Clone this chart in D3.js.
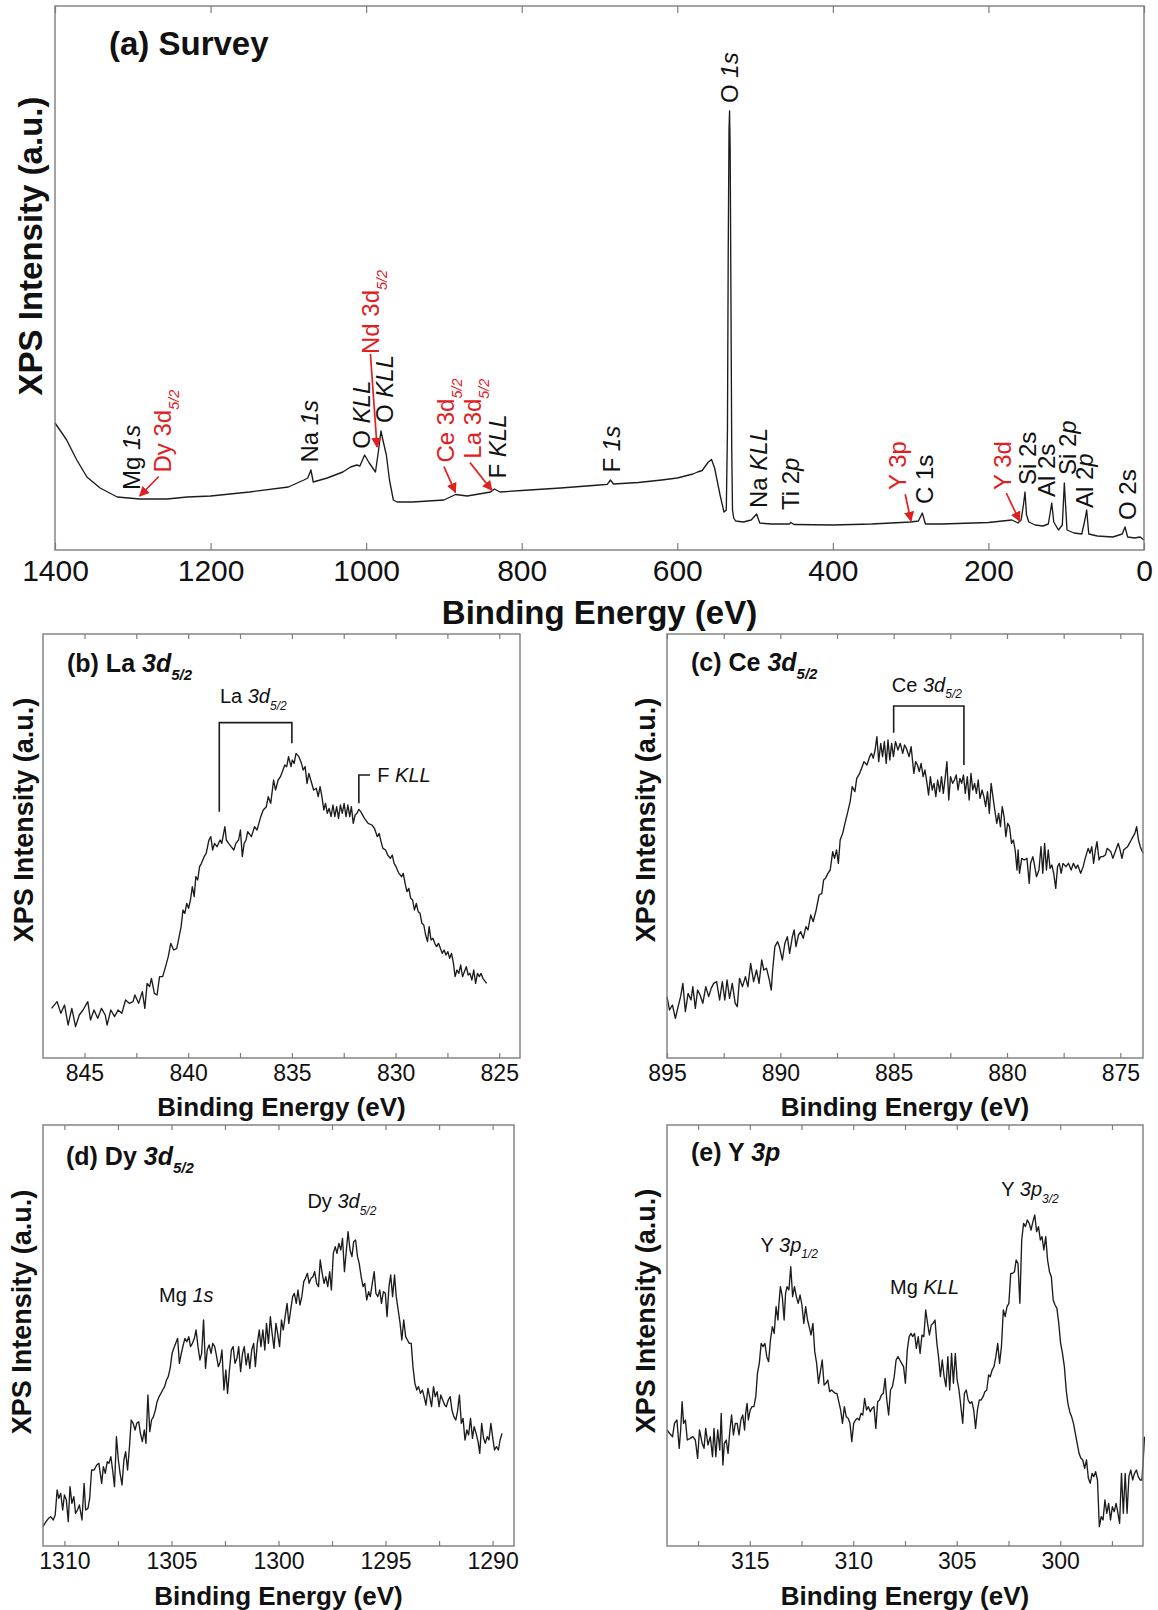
<!DOCTYPE html>
<html>
  <head>
    <title>XPS spectra</title>
    <script src="https://d3js.org/d3.v7.min.js"></script>
    <style>
      body { margin: 0; background: #fff; }
      svg text { font-family: "Liberation Sans", Arial, Helvetica, sans-serif; fill: #111; }
      .frame { fill: none; stroke: #7d7d7d; stroke-width: 1.4; }
      .axis path { display: none; }
      .axis line { stroke: #7d7d7d; stroke-width: 1.2; }
      .spectrum { fill: none; stroke: #1c1c1c; stroke-width: 1.35; stroke-linejoin: round; }
      .bracket { fill: none; stroke: #1c1c1c; stroke-width: 1.6; }
      .arrow { stroke: #e0201e; stroke-width: 1.7; }
    </style>
  </head>
  <body>
    <svg width="1158" height="1610"></svg>
    <script>
      // ---- data: [binding energy (eV), intensity (a.u.)] ----
      const surveySpec = [
        [1400,127],[1392,118],[1385,110],[1372,90],[1359,73],[1342,62],[1320,53],[1291,51],[1256,51],[1230,53],
        [1200,54],[1150,58],[1100,63],[1080,70],[1075,72],[1071,80],[1068,68],[1050,72],[1030,78],[1020,83],
        [1012,85],[1008,84],[1002,95],[996,87],[988,78],[984,100],[981,119],[977,105],[974,95],[970,70],
        [965,50],[960,48],[940,48],[900,50],[885,55.5],[870,54],[840,58],[835,61],[828,58],[800,59.5],
        [750,62],[700,65],[690,65.6],[686,70],[682,66],[650,67.5],[620,70],[600,72],[580,76],[574,78],
        [568,79.5],[560,88],[556,90.5],[552,82],[545,55],[540,38],[537,40],[535.5,120],[534.5,300],[533.5,420],
        [532.8,439],[532,400],[531,250],[530,100],[529,40],[527.5,32],[525,29],[515,28],[505,30],[498,36],
        [494,27],[480,26],[456,26],[454,27.5],[450,25.5],[400,25],[350,26],[300,28],[290,29],[285,37],
        [281,26],[260,26],[200,27.5],[170,30],[162,27],[158,30],[155,45],[153,58],[151,35],[148,28],
        [140,25],[130,24],[123,26],[120,40],[118.6,47],[116,28],[110,20],[105,25],[102.4,67],[99,20],
        [90,17],[80,16],[76,30],[73.7,40],[71,16],[60,14],[40,13],[28,16],[24.4,23],[21,13],
        [12,12],[5,13],[0,10]
      ];

      const laSpec = [
        [846.59,149],[846.32,169],[846.14,134],[845.96,159],[845.79,99],[845.61,149],[845.43,94],[845.25,129],[845.07,144],[844.84,169],
        [844.71,114],[844.54,144],[844.36,119],[844.18,149],[844.00,129],[843.91,99],[843.73,144],[843.55,124],[843.38,144],[843.20,134],
        [843.02,174],[842.84,164],[842.66,169],[842.57,189],[842.39,164],[842.21,199],[842.09,149],[841.98,224],[841.86,214],[841.77,239],
        [841.63,194],[841.50,189],[841.38,244],[841.23,244],[841.09,274],[840.96,304],[840.84,344],[840.70,324],[840.55,329],[840.34,394],
        [840.25,444],[840.16,434],[840.07,464],[839.98,449],[839.89,474],[839.80,514],[839.71,484],[839.63,544],[839.54,534],[839.45,574],
        [839.36,584],[839.23,604],[839.13,614],[839.00,654],[838.91,664],[838.82,624],[838.73,644],[838.61,634],[838.46,654],[838.38,644],
        [838.23,694],[838.16,654],[838.05,644],[837.93,634],[837.80,624],[837.70,644],[837.57,654],[837.48,684],[837.39,604],[837.30,644],
        [837.21,654],[837.13,679],[836.95,664],[836.80,694],[836.68,684],[836.59,704],[836.50,724],[836.38,744],[836.23,754],[836.14,784],
        [836.02,764],[835.88,834],[835.79,804],[835.66,834],[835.55,844],[835.43,864],[835.34,879],[835.25,874],[835.16,904],[835.04,874],
        [834.98,894],[834.89,884],[834.80,914],[834.66,904],[834.54,884],[834.45,864],[834.36,874],[834.27,824],[834.18,854],[834.09,834],
        [833.95,804],[833.82,809],[833.73,784],[833.64,814],[833.55,784],[833.46,744],[833.38,764],[833.29,734],[833.20,749],[833.11,724],
        [833.02,759],[832.93,724],[832.84,754],[832.75,719],[832.66,759],[832.57,734],[832.48,764],[832.39,724],[832.30,759],[832.21,724],
        [832.13,754],[832.04,704],[831.95,729],[831.86,734],[831.77,746],[831.68,739],[831.50,719],[831.32,704],[831.14,699],[831.02,689],
        [830.88,664],[830.79,674],[830.70,649],[830.61,629],[830.48,624],[830.38,609],[830.25,599],[830.16,609],[830.07,584],[829.98,574],
        [829.84,554],[829.71,544],[829.63,554],[829.54,524],[829.45,499],[829.36,509],[829.27,479],[829.18,474],[829.09,444],[829.00,464],
        [828.91,439],[828.82,434],[828.73,404],[828.64,399],[828.55,369],[828.46,349],[828.38,394],[828.29,354],[828.20,359],[828.11,344],
        [828.02,334],[827.93,344],[827.84,329],[827.75,314],[827.66,324],[827.57,309],[827.48,319],[827.39,299],[827.30,314],[827.21,284],
        [827.13,244],[827.04,264],[826.95,254],[826.86,279],[826.77,244],[826.68,259],[826.59,274],[826.50,249],[826.41,254],[826.32,234],
        [826.23,264],[826.14,224],[826.05,254],[825.96,244],[825.88,254],[825.79,239],[825.61,224]
      ];

      const ceSpec = [
        [895.00,180],[894.89,140],[894.76,155],[894.63,115],[894.51,150],[894.40,180],[894.30,220],[894.19,135],[894.07,190],[893.94,170],
        [893.86,210],[893.75,145],[893.65,200],[893.54,185],[893.42,160],[893.29,210],[893.16,180],[893.05,205],[892.94,220],[892.81,225],
        [892.68,170],[892.56,225],[892.45,170],[892.35,230],[892.24,175],[892.12,220],[891.99,160],[891.90,150],[891.80,235],[891.67,210],
        [891.54,240],[891.43,210],[891.31,280],[891.18,225],[891.05,260],[890.94,220],[890.82,290],[890.73,260],[890.61,265],[890.50,235],
        [890.40,200],[890.34,260],[890.24,330],[890.12,345],[890.04,330],[889.91,290],[889.80,340],[889.69,360],[889.59,310],[889.47,360],
        [889.39,380],[889.31,330],[889.20,365],[889.10,375],[888.99,355],[888.87,390],[888.78,380],[888.66,425],[888.55,405],[888.42,440],
        [888.29,485],[888.17,490],[888.09,530],[888.01,535],[887.90,550],[887.80,560],[887.69,615],[887.61,595],[887.52,620],[887.44,580],
        [887.36,650],[887.25,670],[887.15,700],[887.04,730],[886.92,765],[886.83,810],[886.71,795],[886.63,835],[886.50,850],[886.39,870],
        [886.31,885],[886.18,875],[886.06,900],[885.98,910],[885.90,895],[885.82,920],[885.74,960],[885.66,885],[885.57,940],[885.49,900],
        [885.41,945],[885.33,880],[885.25,950],[885.17,890],[885.09,940],[885.01,900],[884.92,945],[884.81,920],[884.71,940],[884.60,910],
        [884.52,935],[884.44,925],[884.32,900],[884.23,930],[884.11,850],[884.03,885],[883.95,875],[883.87,855],[883.79,880],[883.70,840],
        [883.62,860],[883.54,825],[883.46,785],[883.38,840],[883.30,800],[883.22,820],[883.14,780],[883.06,830],[882.97,795],[882.89,840],
        [882.81,790],[882.73,835],[882.65,885],[882.57,770],[882.49,840],[882.40,820],[882.32,830],[882.24,845],[882.16,800],[882.08,835],
        [882.00,820],[881.92,845],[881.84,790],[881.75,840],[881.67,770],[881.59,850],[881.51,800],[881.43,820],[881.35,790],[881.27,830],
        [881.19,775],[881.10,800],[881.02,780],[880.94,750],[880.86,795],[880.78,730],[880.70,820],[880.62,780],[880.54,740],[880.45,700],
        [880.37,730],[880.29,690],[880.21,750],[880.13,720],[880.05,660],[879.97,700],[879.89,690],[879.80,640],[879.72,650],[879.64,620],
        [879.56,560],[879.51,620],[879.45,550],[879.35,595],[879.24,590],[879.12,595],[879.02,520],[878.96,580],[878.86,600],[878.80,580],
        [878.70,540],[878.59,560],[878.50,630],[878.42,550],[878.34,640],[878.26,560],[878.18,620],[878.10,565],[878.02,575],[877.94,550],
        [877.85,505],[877.77,570],[877.69,580],[877.61,550],[877.53,580],[877.40,570],[877.29,580],[877.17,560],[877.07,580],[876.96,565],
        [876.88,575],[876.75,550],[876.64,570],[876.55,595],[876.42,625],[876.34,610],[876.26,630],[876.18,580],[876.10,620],[876.03,645],
        [875.94,590],[875.87,600],[875.77,600],[875.66,605],[875.58,625],[875.50,620],[875.42,615],[875.33,595],[875.25,610],[875.17,625],
        [875.09,640],[875.01,620],[874.93,595],[874.85,620],[874.77,625],[874.68,630],[874.60,640],[874.52,650],[874.44,660],[874.36,670],
        [874.28,690],[874.20,650],[874.12,630],[874.00,610]
      ];

      const dySpec = [
        [1311.00,55],[1310.86,70],[1310.74,80],[1310.64,85],[1310.52,75],[1310.43,90],[1310.34,165],[1310.26,140],[1310.17,155],[1310.08,105],
        [1310.00,150],[1309.91,135],[1309.82,70],[1309.74,175],[1309.65,125],[1309.56,145],[1309.48,95],[1309.39,105],[1309.30,120],[1309.18,75],
        [1309.08,185],[1309.01,105],[1308.90,110],[1308.82,140],[1308.73,225],[1308.61,225],[1308.49,240],[1308.39,245],[1308.26,185],[1308.18,235],
        [1308.09,215],[1308.00,250],[1307.92,245],[1307.83,265],[1307.74,220],[1307.66,175],[1307.57,325],[1307.48,255],[1307.40,215],[1307.31,180],
        [1307.22,255],[1307.14,280],[1307.05,225],[1306.96,295],[1306.88,375],[1306.79,365],[1306.70,345],[1306.62,365],[1306.53,370],[1306.45,335],
        [1306.36,310],[1306.27,345],[1306.19,305],[1306.10,450],[1306.01,340],[1305.93,375],[1305.84,385],[1305.75,405],[1305.67,430],[1305.58,445],
        [1305.49,455],[1305.41,465],[1305.32,475],[1305.23,495],[1305.15,505],[1305.06,530],[1304.97,575],[1304.89,590],[1304.80,605],[1304.71,620],
        [1304.63,545],[1304.54,575],[1304.45,600],[1304.37,620],[1304.28,610],[1304.19,625],[1304.11,595],[1304.02,605],[1303.93,620],[1303.85,645],
        [1303.76,595],[1303.67,555],[1303.59,575],[1303.50,675],[1303.41,530],[1303.33,585],[1303.24,600],[1303.15,575],[1303.07,605],[1302.98,595],
        [1302.89,565],[1302.81,535],[1302.72,550],[1302.64,585],[1302.55,465],[1302.46,525],[1302.38,455],[1302.29,525],[1302.20,585],[1302.12,595],
        [1302.03,545],[1301.94,560],[1301.86,595],[1301.77,520],[1301.68,575],[1301.60,595],[1301.51,540],[1301.42,575],[1301.34,530],[1301.25,585],
        [1301.16,605],[1301.08,535],[1300.99,605],[1300.90,645],[1300.82,595],[1300.73,645],[1300.64,585],[1300.56,665],[1300.47,605],[1300.38,685],
        [1300.30,635],[1300.21,590],[1300.12,665],[1300.04,635],[1299.95,595],[1299.86,675],[1299.78,645],[1299.69,685],[1299.60,725],[1299.52,665],
        [1299.43,705],[1299.34,745],[1299.26,755],[1299.17,725],[1299.09,765],[1299.00,720],[1298.91,745],[1298.82,790],[1298.74,800],[1298.65,815],
        [1298.57,785],[1298.48,800],[1298.39,805],[1298.31,820],[1298.22,785],[1298.13,775],[1298.05,855],[1297.96,815],[1297.87,785],[1297.79,805],
        [1297.70,775],[1297.61,820],[1297.53,765],[1297.44,875],[1297.35,895],[1297.27,875],[1297.18,905],[1297.09,885],[1297.01,920],[1296.92,820],
        [1296.83,885],[1296.75,940],[1296.66,885],[1296.57,865],[1296.49,910],[1296.40,915],[1296.31,865],[1296.23,845],[1296.14,805],[1296.05,775],
        [1295.97,785],[1295.88,735],[1295.79,760],[1295.71,745],[1295.62,785],[1295.53,820],[1295.45,755],[1295.36,745],[1295.27,765],[1295.19,725],
        [1295.10,760],[1295.01,755],[1294.93,685],[1294.84,775],[1294.76,810],[1294.67,745],[1294.58,810],[1294.50,745],[1294.41,705],[1294.32,665],
        [1294.24,615],[1294.15,675],[1294.06,625],[1293.98,615],[1293.89,605],[1293.80,605],[1293.72,535],[1293.63,485],[1293.54,465],[1293.46,475],
        [1293.37,455],[1293.28,465],[1293.20,445],[1293.11,420],[1293.02,470],[1292.94,445],[1292.85,415],[1292.76,475],[1292.68,445],[1292.59,460],
        [1292.50,415],[1292.42,450],[1292.33,435],[1292.24,420],[1292.16,415],[1292.07,435],[1291.98,445],[1291.90,405],[1291.81,385],[1291.72,375],
        [1291.64,400],[1291.55,450],[1291.46,365],[1291.38,380],[1291.29,315],[1291.20,345],[1291.12,330],[1291.03,380],[1290.94,320],[1290.86,355],
        [1290.77,335],[1290.68,310],[1290.60,275],[1290.51,365],[1290.42,320],[1290.34,305],[1290.25,325],[1290.17,315],[1290.08,365],[1289.99,320],
        [1289.91,285],[1289.82,295],[1289.73,285],[1289.65,315],[1289.56,335]
      ];

      const ySpec = [
        [319.00,350],[318.88,340],[318.73,330],[318.64,370],[318.52,380],[318.41,295],[318.34,350],[318.27,435],[318.20,370],[318.11,380],
        [318.02,320],[317.88,325],[317.75,330],[317.63,320],[317.52,265],[317.43,350],[317.30,310],[317.21,295],[317.13,355],[317.02,305],
        [316.91,330],[316.80,270],[316.73,355],[316.64,270],[316.55,350],[316.45,290],[316.38,400],[316.30,245],[316.23,310],[316.14,320],
        [316.05,280],[315.96,350],[315.88,395],[315.79,335],[315.70,370],[315.61,370],[315.52,335],[315.43,380],[315.34,395],[315.25,350],
        [315.20,400],[315.13,430],[315.07,380],[314.98,410],[314.89,420],[314.80,420],[314.71,450],[314.63,520],[314.54,550],[314.45,610],
        [314.36,600],[314.27,610],[314.18,570],[314.09,555],[314.00,620],[313.91,660],[313.82,640],[313.73,720],[313.64,680],[313.59,730],
        [313.52,780],[313.43,750],[313.34,680],[313.27,760],[313.20,780],[313.11,770],[313.02,840],[312.93,750],[312.84,780],[312.75,750],
        [312.66,730],[312.57,755],[312.48,725],[312.39,670],[312.30,720],[312.21,680],[312.13,660],[312.04,635],[311.95,670],[311.86,585],
        [311.77,550],[311.68,490],[311.59,525],[311.50,560],[311.41,485],[311.32,490],[311.23,500],[311.14,465],[311.05,470],[310.96,465],
        [310.88,460],[310.79,460],[310.70,435],[310.61,410],[310.52,370],[310.43,420],[310.34,390],[310.25,385],[310.16,370],[310.07,315],
        [309.98,370],[309.89,380],[309.80,385],[309.71,380],[309.63,400],[309.54,395],[309.45,445],[309.36,410],[309.27,420],[309.18,405],
        [309.09,415],[309.00,420],[308.91,355],[308.82,435],[308.73,440],[308.64,455],[308.55,460],[308.46,505],[308.38,440],[308.29,395],
        [308.20,470],[308.11,480],[308.02,510],[307.93,560],[307.84,570],[307.75,560],[307.66,550],[307.57,540],[307.48,490],[307.39,590],
        [307.30,630],[307.21,640],[307.13,630],[307.04,640],[306.95,595],[306.86,630],[306.77,580],[306.68,635],[306.59,630],[306.50,710],
        [306.41,670],[306.32,635],[306.23,665],[306.14,670],[306.05,680],[305.96,610],[305.88,570],[305.79,510],[305.70,560],[305.61,510],
        [305.52,480],[305.43,570],[305.34,470],[305.25,580],[305.16,490],[305.07,580],[304.98,500],[304.89,470],[304.80,420],[304.71,370],
        [304.63,460],[304.54,470],[304.45,440],[304.36,430],[304.27,435],[304.18,410],[304.09,355],[304.00,410],[303.91,440],[303.82,440],
        [303.73,450],[303.64,465],[303.55,470],[303.46,515],[303.38,510],[303.29,530],[303.20,540],[303.11,570],[303.02,610],[302.93,550],
        [302.84,600],[302.75,710],[302.66,690],[302.57,720],[302.48,730],[302.39,820],[302.30,820],[302.21,825],[302.13,860],[302.04,850],
        [301.95,730],[301.86,920],[301.77,970],[301.68,960],[301.59,980],[301.50,970],[301.41,950],[301.32,975],[301.23,995],[301.14,945],
        [301.05,960],[300.96,920],[300.88,930],[300.79,890],[300.70,930],[300.61,860],[300.52,825],[300.43,810],[300.34,740],[300.25,725],
        [300.16,715],[300.07,670],[299.98,610],[299.89,580],[299.80,540],[299.71,470],[299.63,430],[299.54,405],[299.45,390],[299.36,370],
        [299.27,340],[299.18,310],[299.09,280],[299.00,265],[298.91,260],[298.82,235],[298.73,260],[298.64,205],[298.55,190],[298.46,220],
        [298.38,210],[298.29,225],[298.20,200],[298.11,60],[298.02,90],[297.93,80],[297.84,140],[297.75,100],[297.66,130],[297.57,80],
        [297.48,120],[297.39,105],[297.30,130],[297.21,100],[297.13,70],[297.04,220],[296.95,100],[296.86,220],[296.77,100],[296.68,210],
        [296.59,230],[296.50,200],[296.41,220],[296.32,230],[296.23,210],[296.14,200],[296.05,200],[295.98,270],[295.93,330]
      ];

      // ---- tick values ----
      const surveyTicks = [1400, 1200, 1000, 800, 600, 400, 200, 0];
      const laTicks = [845, 840, 835, 830, 825];
      const laMinor = [842.5, 837.5, 832.5, 827.5];
      const ceTicks = [895, 890, 885, 880, 875];
      const ceMinor = [892.5, 887.5, 882.5, 877.5];
      const dyTicks = [1310, 1305, 1300, 1295, 1290];
      const dyMinor = [1307.5, 1302.5, 1297.5, 1292.5];
      const yTicks = [315, 310, 305, 300];
      const yMinor = [317.5, 312.5, 307.5, 302.5, 297.5];

      // ---- peak labels on the survey: text parts, energy, intensity at label foot ----
      const surveyLabels = [
        { parts: ["Mg ", ["1s", "i"]], E: 1301.0, I: 60 },
        { parts: ["Dy 3d", ["5/2", "sub"]], E: 1261.7, I: 77.5, red: true },
        { parts: ["Na ", ["1s", "i"]], E: 1072.2, I: 87.4 },
        { parts: ["O ", ["KLL", "i"]], E: 1005.8, I: 101.2 },
        { parts: ["Nd 3d", ["5/2", "sub"]], E: 993.8, I: 196, red: true },
        { parts: ["O ", ["KLL", "i"]], E: 976.3, I: 127 },
        { parts: ["Ce 3d", ["5/2", "sub"]], E: 897.6, I: 87.4, red: true },
        { parts: ["La 3d", ["5/2", "sub"]], E: 863.1, I: 91.3, red: true },
        { parts: ["F ", ["KLL", "i"]], E: 831.1, I: 71.5 },
        { parts: ["F ", ["1s", "i"]], E: 684.6, I: 77.5 },
        { parts: ["O ", ["1s", "i"]], E: 532.6, I: 447 },
        { parts: ["Na ", ["KLL", "i"]], E: 495.9, I: 42 },
        { parts: ["Ti 2", ["p", "i"]], E: 454.2, I: 40 },
        { parts: ["Y 3p"], E: 316.9, I: 60, red: true },
        { parts: ["C 1s"], E: 282.5, I: 46 },
        { parts: ["Y 3d"], E: 182.0, I: 60, red: true },
        { parts: ["Si 2s"], E: 149.1, I: 65 },
        { parts: ["Al 2s"], E: 124.7, I: 53 },
        { parts: ["Si 2", ["p", "i"]], E: 97.7, I: 75 },
        { parts: ["Al 2", ["p", "i"]], E: 75.8, I: 42 },
        { parts: ["O 2s"], E: 20.5, I: 30 }
      ];
      const surveyArrows = [
        [[1266.6, 73.5], [1291.1, 54]],
        [[994.5, 196], [986, 103]],
        [[900, 83.4], [885.2, 57.7]],
        [[866.5, 87.4], [838.4, 59.7]],
        [[307, 55.7], [299.6, 29]],
        [[177.1, 57], [159.9, 29]]
      ];

      const RED = "#e0201e";

      function addRich(textSel, parts) {
        parts.forEach(p => {
          const [t, style] = typeof p === "string" ? [p, ""] : p;
          const ts = textSel.append("tspan").text(t);
          if (style === "i" || style === "sub") ts.attr("font-style", "italic");
          if (style === "sub") ts.attr("font-size", "0.6em").attr("dy", "0.55em");
        });
      }

      function spectrumPanel(svg, props) {
        const x = d3.scaleLinear().domain(props.xDomain).range([props.left, props.right]);
        const y = d3.scaleLinear().domain(props.yDomain).range([props.bottom, props.top]);
        const g = svg.append("g");

        const tickLen = props.tickLen;
        const bottomAxis = d3.axisBottom(x)
          .tickValues(props.ticks)
          .tickSize(-tickLen)
          .tickPadding(props.tickPad)
          .tickFormat(d3.format("d"));
        g.append("g")
            .attr("class", "axis")
            .attr("transform", `translate(0, ${props.bottom})`)
            .call(bottomAxis)
            .attr("font-size", props.tickFont)
            .attr("font-family", null);
        g.append("g")
            .attr("class", "axis")
            .attr("transform", `translate(0, ${props.top})`)
            .call(d3.axisTop(x).tickValues(props.ticks).tickSize(-tickLen).tickFormat(""));
        if (props.minor) {
          g.append("g")
              .attr("class", "axis")
              .attr("transform", `translate(0, ${props.bottom})`)
              .call(d3.axisBottom(x).tickValues(props.minor).tickSize(-tickLen).tickFormat(""));
          g.append("g")
              .attr("class", "axis")
              .attr("transform", `translate(0, ${props.top})`)
              .call(d3.axisTop(x).tickValues(props.minor).tickSize(-tickLen).tickFormat(""));
        }
        g.selectAll(".axis text").attr("fill", "#111");

        g.append("path")
            .datum(props.data)
            .attr("class", "spectrum")
            .attr("d", d3.line().x(d => x(d[0])).y(d => y(d[1])));

        g.append("rect")
            .attr("class", "frame")
            .attr("x", props.left)
            .attr("y", props.top)
            .attr("width", props.right - props.left)
            .attr("height", props.bottom - props.top);

        // axis titles
        g.append("text")
            .attr("x", (props.left + props.right) / 2)
            .attr("y", props.xTitleY)
            .attr("text-anchor", "middle")
            .attr("font-weight", "bold")
            .attr("font-size", props.titleFont)
            .text("Binding Energy (eV)");
        g.append("text")
            .attr("transform", `translate(${props.yTitleX}, ${props.yTitleY}) rotate(-90)`)
            .attr("dy", "0.35em")
            .attr("text-anchor", "middle")
            .attr("font-weight", "bold")
            .attr("font-size", props.yTitleFont)
            .text("XPS Intensity (a.u.)");

        // panel label
        const lab = g.append("text")
            .attr("x", props.labelX)
            .attr("y", props.labelY)
            .attr("font-weight", "bold")
            .attr("font-size", props.labelFont);
        addRich(lab, props.label);

        // brackets and notes
        (props.brackets || []).forEach(b => {
          g.append("path")
              .attr("class", "bracket")
              .attr("d", d3.line().x(d => x(d[0])).y(d => y(d[1]))(b));
        });
        (props.notes || []).forEach(n => {
          const t = g.append("text")
              .attr("x", x(n.E))
              .attr("y", y(n.I))
              .attr("font-size", props.noteFont);
          addRich(t, n.parts);
        });

        return { g, x, y };
      }

      const svg = d3.select("svg");
      svg.append("defs").append("marker")
          .attr("id", "head")
          .attr("viewBox", "0 0 10 10")
          .attr("refX", 9)
          .attr("refY", 5)
          .attr("markerWidth", 6)
          .attr("markerHeight", 6)
          .attr("markerUnits", "strokeWidth")
          .attr("orient", "auto")
        .append("path")
          .attr("d", "M0,0 L10,5 L0,10 z")
          .attr("fill", RED);

      // (a) survey
      const survey = spectrumPanel(svg, {
        data: surveySpec,
        xDomain: [1400, 0], yDomain: [0, 544],
        left: 55, right: 1144, top: 6, bottom: 550,
        ticks: surveyTicks, tickLen: 7, tickPad: 10, tickFont: 30,
        xTitleY: 624, titleFont: 33,
        yTitleX: 30, yTitleY: 246, yTitleFont: 33,
        labelX: 109, labelY: 55, labelFont: 33, label: ["(a) Survey"]
      });
      survey.g.selectAll(".label")
        .data(surveyLabels)
        .enter().append("text")
          .attr("class", "label")
          .attr("transform", d => `translate(${survey.x(d.E)}, ${survey.y(d.I)}) rotate(-90)`)
          .attr("dy", "0.35em")
          .attr("font-size", 24)
          .style("fill", d => d.red ? RED : "#111")
          .each(function (d) { addRich(d3.select(this), d.parts); });
      survey.g.selectAll(".arrow")
        .data(surveyArrows)
        .enter().append("line")
          .attr("class", "arrow")
          .attr("x1", d => survey.x(d[0][0]))
          .attr("y1", d => survey.y(d[0][1]))
          .attr("x2", d => survey.x(d[1][0]))
          .attr("y2", d => survey.y(d[1][1]))
          .attr("marker-end", "url(#head)");

      const sub = {
        tickLen: 5, tickPad: 7, tickFont: 23, titleFont: 26, yTitleFont: 27,
        labelFont: 25, noteFont: 20
      };

      // (b) La 3d5/2
      spectrumPanel(svg, Object.assign({}, sub, {
        data: laSpec,
        xDomain: [847, 824], yDomain: [0, 1272],
        left: 43, right: 520, top: 634, bottom: 1058,
        ticks: laTicks, minor: laMinor,
        xTitleY: 1116, yTitleX: 24, yTitleY: 820,
        labelX: 67, labelY: 672, label: ["(b) La ", ["3d", "i"], ["5/2", "sub"]],
        notes: [
          { parts: ["La ", ["3d", "i"], ["5/2", "sub"]], E: 838.47, I: 1065 },
          { parts: ["F ", ["KLL", "i"]], E: 830.88, I: 829 }
        ],
        brackets: [
          [[838.5, 739], [838.5, 1006], [835, 1006], [835, 944]],
          [[831.77, 764], [831.77, 849], [831.23, 849]]
        ]
      }));

      // (c) Ce 3d5/2
      spectrumPanel(svg, Object.assign({}, sub, {
        data: ceSpec,
        xDomain: [895, 874], yDomain: [-4, 1268],
        left: 667, right: 1143, top: 634, bottom: 1058,
        ticks: ceTicks, minor: ceMinor,
        xTitleY: 1116, yTitleX: 646, yTitleY: 820,
        labelX: 691, labelY: 671, label: ["(c) Ce ", ["3d", "i"], ["5/2", "sub"]],
        notes: [
          { parts: ["Ce ", ["3d", "i"], ["5/2", "sub"]], E: 885.08, I: 1095 }
        ],
        brackets: [
          [[885, 972], [885, 1052], [881.9, 1052], [881.9, 875]]
        ]
      }));

      // (d) Dy 3d5/2
      spectrumPanel(svg, Object.assign({}, sub, {
        data: dySpec,
        xDomain: [1311, 1289], yDomain: [-3, 1260],
        left: 43, right: 514, top: 1125, bottom: 1546,
        ticks: dyTicks, minor: dyMinor,
        xTitleY: 1605, yTitleX: 22, yTitleY: 1312,
        labelX: 66, labelY: 1165, label: ["(d) Dy ", ["3d", "i"], ["5/2", "sub"]],
        notes: [
          { parts: ["Dy ", ["3d", "i"], ["5/2", "sub"]], E: 1298.65, I: 1010 },
          { parts: ["Mg ", ["1s", "i"]], E: 1305.58, I: 730 }
        ]
      }));

      // (e) Y 3p
      spectrumPanel(svg, Object.assign({}, sub, {
        data: ySpec,
        xDomain: [319, 296], yDomain: [2, 1265],
        left: 667, right: 1143, top: 1125, bottom: 1546,
        ticks: yTicks, minor: yMinor,
        xTitleY: 1605, yTitleX: 646, yTitleY: 1311,
        labelX: 691, labelY: 1161, label: ["(e) Y ", ["3p", "i"]],
        notes: [
          { parts: ["Y ", ["3p", "i"], ["3/2", "sub"]], E: 302.85, I: 1052 },
          { parts: ["Y ", ["3p", "i"], ["1/2", "sub"]], E: 314.48, I: 885 },
          { parts: ["Mg ", ["KLL", "i"]], E: 308.22, I: 758 }
        ]
      }));
    </script>
  </body>
</html>
